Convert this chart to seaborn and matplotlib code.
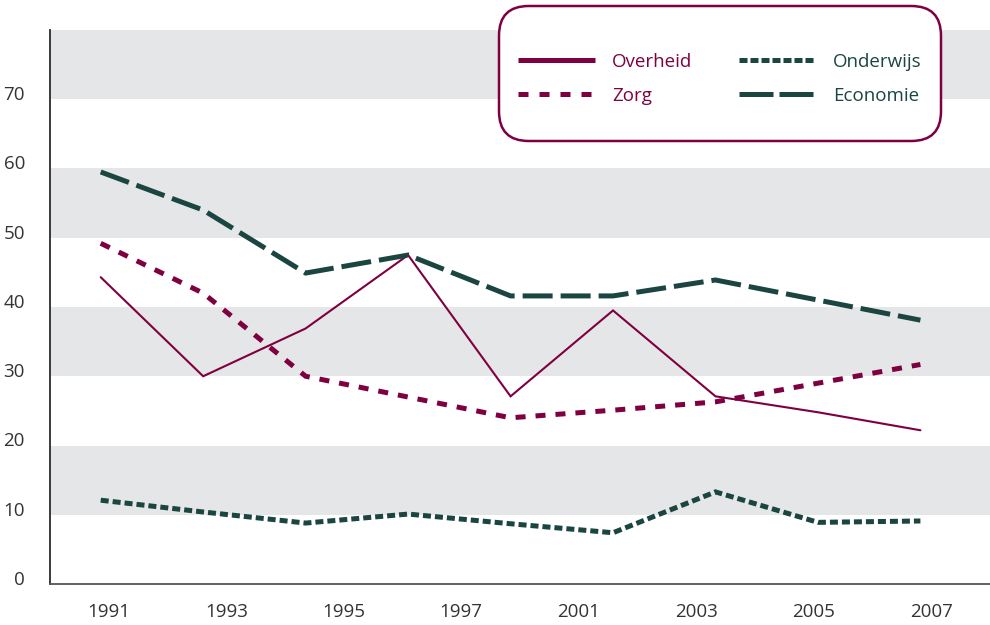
import numpy as np
import pandas as pd
import matplotlib
matplotlib.use("Agg")
import matplotlib.pyplot as plt
import seaborn as sns
from matplotlib.lines import Line2D
from matplotlib.patches import FancyBboxPatch
from matplotlib.transforms import ScaledTranslation

# --- Daten ---
punten = list(range(9))
overheid = [44.3, 30.0, 36.9, 47.5, 27.1, 39.5, 27.1, 24.8, 22.2]
zorg = [49.2, 42.0, 30.0, 27.0, 24.0, 25.1, 26.3, 29.0, 31.7]
onderwijs = [12.1, 10.4, 8.8, 10.1, 8.7, 7.4, 13.3, 8.9, 9.1]
economie = [59.5, 54.0, 44.9, 47.5, 41.6, 41.6, 43.9, 41.0, 38.1]
jaren = ["1991", "1993", "1995", "1997", "2001", "2003", "2005", "2007"]
y_ticks = [0, 10, 20, 30, 40, 50, 60, 70]

MAROON = "#7f0040"
TEAL = "#1a4540"
GRIJS = "#e5e6e8"
TEKST = "#333333"

reeksen = ["Overheid", "Zorg", "Onderwijs", "Economie"]
df = pd.DataFrame({
    "x": punten * 4,
    "waarde": overheid + zorg + onderwijs + economie,
    "reeks": np.repeat(reeksen, len(punten)),
})

kleuren = {"Overheid": MAROON, "Zorg": MAROON, "Onderwijs": TEAL, "Economie": TEAL}
diktes = {"Overheid": 1.5, "Zorg": 3.6, "Onderwijs": 3.6, "Economie": 3.6}
streepjes = {"Overheid": "", "Zorg": (2.0, 2.0), "Onderwijs": (1.6, 0.8), "Economie": (6.0, 1.6)}

sns.set_style("white")
plt.rcParams["font.family"] = ["Open Sans", "DejaVu Sans"]

fig = plt.figure(figsize=(9.9, 6.25), dpi=100)
ax = fig.add_axes([50 / 990, 41 / 625, 940 / 990, 554 / 625])

# grijze banden
for lo in range(10, 80, 20):
    ax.axhspan(lo, lo + 10, color=GRIJS, lw=0, zorder=0)

sns.lineplot(data=df, x="x", y="waarde", hue="reeks", style="reeks", size="reeks",
             palette=kleuren, dashes=streepjes, sizes=diktes, hue_order=reeksen,
             style_order=reeksen, size_order=reeksen, legend=False, ax=ax, zorder=3)
for ln in ax.get_lines():
    ln.set_dash_capstyle("butt")
    ln.set_solid_joinstyle("miter")
    ln.set_dash_joinstyle("miter")

# x-as: punten staan anders dan de jaarlabels
a = -0.495
b = a + 1 / 0.109
ax.set_xlim(a, b)
ax.set_ylim(0, 80)
grenzen = np.linspace(a, b, 17)
ax.set_xticks(grenzen[1::2])
ax.set_xticklabels(jaren)
ax.set_xticks(grenzen[2:-1:2], minor=True)
ax.set_yticks(y_ticks)
ax.set_yticklabels([str(v) for v in y_ticks])
ax.set_xlabel("")
ax.set_ylabel("")

ax.tick_params(axis="x", which="major", length=0, pad=14, labelsize=13.5, colors=TEKST)
ax.tick_params(axis="x", which="minor", length=0)
ax.tick_params(axis="y", length=0, pad=18, labelsize=13.5, colors=TEKST)
off = ScaledTranslation(0, 6 / 100, fig.dpi_scale_trans)
for lbl in ax.get_yticklabels():
    lbl.set_transform(lbl.get_transform() + off)
    lbl.set_horizontalalignment("right")

for s in ["top", "right"]:
    ax.spines[s].set_visible(False)
ax.spines["left"].set_color("#2b2b2b")
ax.spines["bottom"].set_color("#555555")
ax.spines["left"].set_linewidth(1.3)
ax.spines["bottom"].set_linewidth(1.3)

# --- legenda met afgeronde kader ---
kader = FancyBboxPatch((499 / 990, 1 - 141 / 625), 442 / 990, 135 / 625,
                       boxstyle="round,pad=0,rounding_size=0.03",
                       transform=fig.transFigure, facecolor="white",
                       edgecolor=MAROON, linewidth=1.8, zorder=5,
                       mutation_aspect=990 / 625)
fig.patches.append(kader)

handles = [
    Line2D([], [], color=MAROON, lw=3.6, solid_capstyle="butt"),
    Line2D([], [], color=MAROON, lw=3.6, dashes=(2.0, 2.2), dash_capstyle="butt"),
    Line2D([], [], color=TEAL, lw=3.6, dashes=(1.6, 0.6), dash_capstyle="butt"),
    Line2D([], [], color=TEAL, lw=3.6, dashes=(6.8, 1.2), dash_capstyle="butt"),
]
leg = fig.legend(handles, reeksen, loc="center",
                 bbox_to_anchor=((498 + 942) / 2 / 990, 1 - 79 / 625),
                 ncol=2, frameon=False, fontsize=13.5, handlelength=4.1,
                 handletextpad=0.9, columnspacing=2.5, labelspacing=0.85,
                 labelcolor="linecolor")
leg.set_zorder(6)

plt.savefig("out.png", dpi=100)
